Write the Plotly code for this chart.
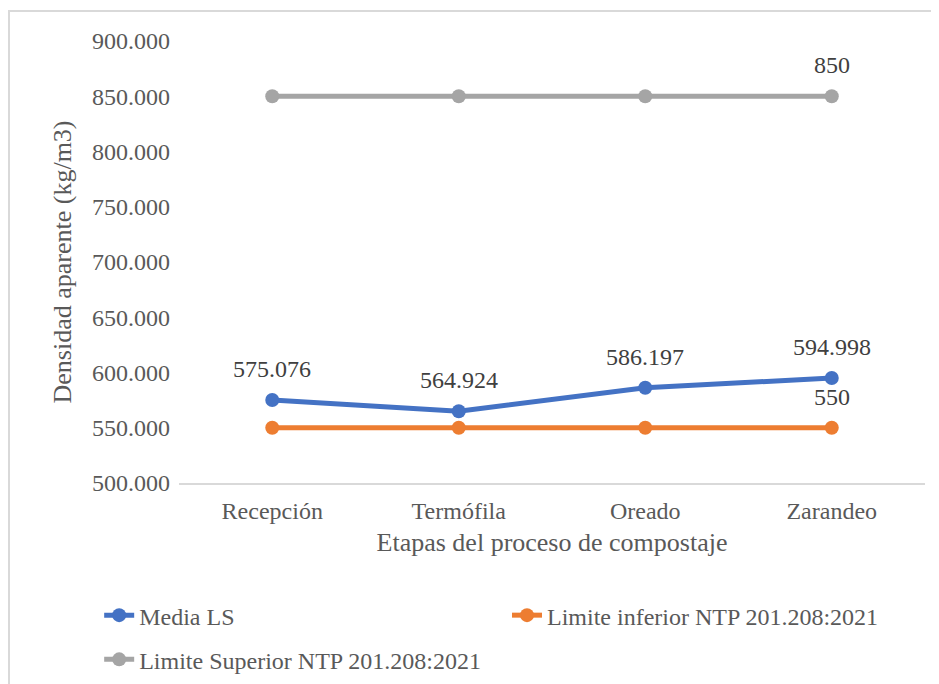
import plotly.graph_objects as go

etapas = ["Recepción", "Termófila", "Oreado", "Zarandeo"]
media_ls = [575.076, 564.924, 586.197, 594.998]
limite_inferior = [550, 550, 550, 550]
limite_superior = [850, 850, 850, 850]

media_txt = ["575.076", "564.924", "586.197", "594.998"]
inf_txt = ["", "", "", "550"]
sup_txt = ["", "", "", "850"]

FONT = "Liberation Serif, Times New Roman, serif"

fig = go.Figure()
labels = []


def add_line(y, txt, name, color, legend, group):
    fig.add_trace(go.Scatter(
        x=etapas, y=y, name=name, mode="lines+markers",
        line=dict(color=color, width=5),
        marker=dict(color=color, size=14),
        cliponaxis=False, legend=legend, legendgroup=group,
    ))
    # data labels above the points
    for xv, yv, t in zip(etapas, y, txt):
        if t:
            labels.append(dict(
                x=xv, y=yv, text=t, showarrow=False, yshift=31,
                yanchor="middle", xanchor="center",
                font=dict(family=FONT, size=24, color="#404040"),
            ))


add_line(media_ls, media_txt, "Media LS", "#4472C4", "legend", "a")
add_line(limite_inferior, inf_txt, "Limite inferior NTP 201.208:2021", "#ED7D31", "legend2", "b")
add_line(limite_superior, sup_txt, "Limite Superior NTP 201.208:2021", "#A5A5A5", "legend", "c")

leg = dict(
    xanchor="left", yanchor="top", orientation="v",
    font=dict(family=FONT, size=24, color="#595959"),
    tracegroupgap=10, bgcolor="rgba(0,0,0,0)",
)

# page has an 8px body margin, so the figure is 8px smaller and margins shifted
fig.update_layout(
    width=931, height=676,
    margin=dict(l=171, r=14, t=33, b=201, autoexpand=False),
    paper_bgcolor="white", plot_bgcolor="white",
    font=dict(family=FONT, size=24, color="#595959"),
    showlegend=True,
    legend=dict(leg, x=-0.107, y=-0.249),
    legend2=dict(leg, x=0.4397, y=-0.249),
    annotations=labels,
    xaxis=dict(
        title=dict(text="Etapas del proceso de compostaje", standoff=10,
                   font=dict(family=FONT, size=26, color="#595959")),
        range=[-0.5, 3.5],
        showgrid=False, showline=True, linecolor="#D9D9D9", linewidth=2,
        ticks="", zeroline=False, ticklabelstandoff=5,
    ),
    yaxis=dict(
        title=dict(text="Densidad aparente (kg/m3)", standoff=12,
                   font=dict(family=FONT, size=26, color="#595959")),
        range=[500, 900], dtick=50, tickformat=".3f",
        showgrid=False, zeroline=False, showline=False, ticks="",
        ticklabelstandoff=8,
    ),
    shapes=[dict(
        type="rect", xref="paper", yref="paper",
        x0=-0.2279, y0=-0.6, x1=1.1, y1=1.0679,
        line=dict(color="#D9D9D9", width=2), fillcolor="rgba(0,0,0,0)",
        layer="below",
    )],
)

fig.write_html("out.html")
